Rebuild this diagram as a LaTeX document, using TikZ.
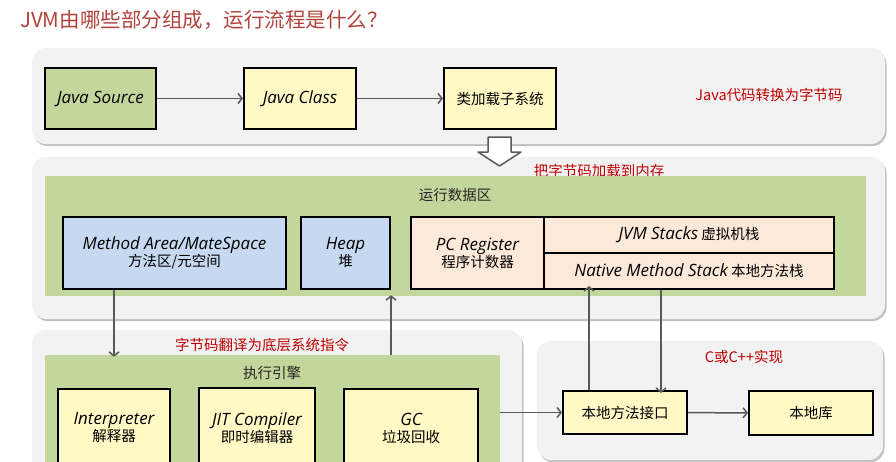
\documentclass[tikz,border=0pt]{standalone}
\usepackage{fontspec}
\setmainfont{Noto Sans CJK SC}
\newfontfamily\handfont{Open Sans}[Scale=1.17]
\usetikzlibrary{arrows.meta,shadows}

\definecolor{panelgray}{HTML}{F2F2F2}
\definecolor{areagreen}{HTML}{C3D69B}
\definecolor{boxyellow}{HTML}{FFF9C6}
\definecolor{boxgreen}{HTML}{C3D69B}
\definecolor{boxblue}{HTML}{C6D9F0}
\definecolor{boxpeach}{HTML}{FDE9D9}
\definecolor{linegray}{HTML}{595959}
\definecolor{notered}{HTML}{C00000}
\definecolor{titlered}{HTML}{B3423A}

\newcommand{\hand}[1]{{\handfont\itshape #1}}

\tikzset{
  panel/.style={fill=panelgray, rounded corners=14pt,
    drop shadow={shadow xshift=1.5pt, shadow yshift=-2pt, opacity=0.45, fill=black!55}},
  area/.style={fill=areagreen, inner sep=0pt},
  box/.style={draw=black, line width=2pt, fill=boxyellow, inner sep=0pt,
    align=center, font=\fontsize{14.5}{17}\selectfont},
  flow/.style={draw=linegray, line width=1.5pt,
    -{Straight Barb[length=4pt,width=10pt,line width=1.5pt]}},
  note/.style={text=notered, font=\fontsize{14.5}{17}\selectfont},
  caption/.style={text=black!85, font=\fontsize{14.5}{17}\selectfont},
}

\begin{document}
\begin{tikzpicture}[x=1pt,y=-1pt]

\useasboundingbox (0,0) rectangle (896,461);
\clip (0,0) rectangle (896,461);

% title
\node[anchor=west, inner sep=0pt, text=titlered, font=\fontsize{20.5}{24}\selectfont] (title) at (20,20)
  {JVM由哪些部分组成，运行流程是什么？};

% gray panels
\path[panel] (32,48) rectangle (885,144);
\path[panel] (32,157) rectangle (885,319);
\path[panel] (32,330) rectangle (522,490);
\path[panel] (537,341) rectangle (883,460);

% class loading
\node[box, fill=boxgreen, minimum width=111pt, minimum height=61pt] (src) at (100.5,98.5) {\hand{Java Source}};
\node[box, minimum width=112pt, minimum height=61pt] (cls) at (300,98.5) {\hand{Java Class}};
\node[box, minimum width=112pt, minimum height=61pt] (loader) at (500,98.5) {类加载子系统};
\node[note] (n1) at (769,95) {Java代码转换为字节码};

\draw[flow] (src) -- (cls);
\draw[flow] (cls) -- (loader);

% hollow arrow
\draw[linegray, line width=1.5pt, fill=white, line join=round]
  (488,137) -- (511,137) -- (511,152) -- (521,152) -- (499.5,166) -- (478,152) -- (488,152) -- cycle;
\node[note] (n2) at (599,171) {把字节码加载到内存};

% runtime data area
\node[area, minimum width=821pt, minimum height=120pt] (rda) at (455.5,236) {};
\node[caption] (rdacap) at (455,195) {运行数据区};

\node[box, fill=boxblue, minimum width=223pt, minimum height=72pt] (method) at (174.5,253)
  {\hand{Method Area/MateSpace}\\方法区/元空间};
\node[box, fill=boxblue, minimum width=89pt, minimum height=72pt] (heap) at (345.5,253)
  {\hand{Heap}\\堆};
\node[box, fill=boxpeach, minimum width=133pt, minimum height=72pt] (pcreg) at (477.5,253)
  {\hand{PC Register}\\程序计数器};
\node[box, fill=boxpeach, minimum width=290pt, minimum height=36pt] (jvmstk) at (689,235)
  {\hand{JVM Stacks} 虚拟机栈};
\node[box, fill=boxpeach, minimum width=290pt, minimum height=36pt] (native) at (689,271)
  {\hand{Native Method Stack} 本地方法栈};

% execution engine
\node[note] (n3) at (262,345) {字节码翻译为底层系统指令};
\node[area, minimum width=455pt, minimum height=140pt] (ee) at (272.5,425) {};
\node[caption] (eecap) at (272,373) {执行引擎};

\node[box, minimum width=112pt, minimum height=78pt] (interp) at (114,428)
  {\hand{Interpreter}\\解释器};
\node[box, minimum width=116pt, minimum height=80pt] (jit) at (257,428)
  {\hand{JIT Compiler}\\即时编辑器};
\node[box, minimum width=134pt, minimum height=78pt] (gc) at (411,428)
  {\hand{GC}\\垃圾回收};

% native side
\node[note] (n4) at (744,357) {C或C++实现};
\node[box, minimum width=124pt, minimum height=43pt] (nif) at (625,412.5) {本地方法接口};
\node[box, minimum width=124pt, minimum height=44pt] (nlib) at (811,413) {本地库};

% connectors
\draw[flow] (method.south -| interp) -- ([yshift=-2pt]ee.north -| interp);
\draw[flow] (ee.north -| heap.east) -- ([yshift=1pt]rda.south -| heap.east);
\draw[flow] ([xshift=-36pt]nif.north) -- ([xshift=-36pt,yshift=4pt]nif.north |- native.south);
\draw[flow] ([xshift=36pt]nif.north |- native.south) -- ([xshift=36pt,yshift=-3pt]nif.north);
\draw[flow] (ee.east |- nif.west) -- (nif.west);
\draw[flow] (nif) -- (nlib);

\end{tikzpicture}
\end{document}
